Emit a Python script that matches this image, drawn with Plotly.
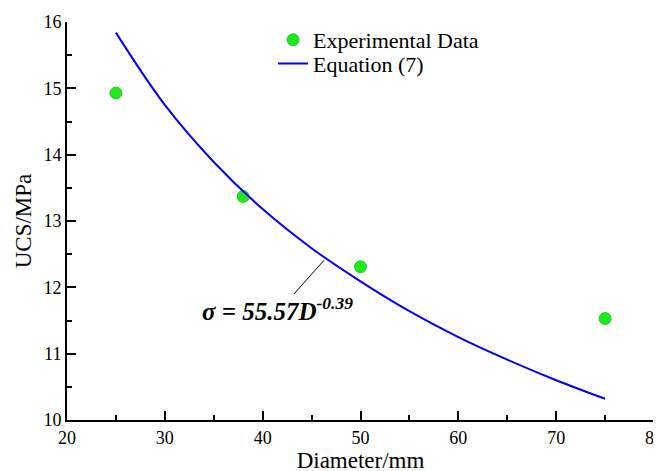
import plotly.graph_objects as go

# Experimental data
diam = [25, 38, 50, 75]
ucs = [14.93, 13.37, 12.31, 11.53]

# Fitted curve, sigma = 55.57 D^-0.39
curve_d = [25, 30, 35, 40, 45, 50, 55, 60, 65, 70, 75]
curve_s = [15.84, 14.75, 13.89, 13.18, 12.59, 12.09, 11.64, 11.25, 10.91, 10.60, 10.32]

x_ticks = [20, 30, 40, 50, 60, 70, 80]
y_ticks = [10, 11, 12, 13, 14, 15, 16]

FONT = "Liberation Serif, Times New Roman, serif"

fig = go.Figure()
fig.add_trace(go.Scatter(
    x=diam, y=ucs, mode="markers", name="Experimental Data", legend="legend",
    marker=dict(size=12, color="#1ee81e",
                line=dict(width=0.8, color="#10c010")),
))
fig.add_trace(go.Scatter(
    x=curve_d, y=curve_s, mode="lines", name="Equation (7)", legend="legend2",
    line=dict(color="#0000ff", width=2, shape="spline"),
))

# leader line and equation label
fig.add_shape(type="line", x0=43.2, y0=11.90, x1=46.28, y1=12.41,
              line=dict(color="black", width=1))
fig.add_annotation(x=41.5, y=11.67, showarrow=False,
                   text="<b><i>σ = 55.57D<sup>-0.39</sup></i></b>",
                   font=dict(family=FONT, size=25, color="black"))

legend_style = dict(x=0.351, xanchor="left", yanchor="middle",
                    bgcolor="rgba(0,0,0,0)", font=dict(size=22, family=FONT, color="black"))

fig.update_layout(
    width=661, height=471,
    margin=dict(l=59, r=15, t=11, b=59),
    paper_bgcolor="white", plot_bgcolor="white",
    font=dict(family=FONT, size=17, color="black"),
    showlegend=True,
    legend=dict(y=0.955, **legend_style),
    legend2=dict(y=0.895, **legend_style),
    xaxis=dict(range=[20, 80], tickvals=x_ticks, showgrid=False, zeroline=False,
               automargin=False,
               showline=True, linecolor="black", linewidth=2,
               ticks="inside", ticklen=9, tickwidth=1.5, tickcolor="black",
               minor=dict(ticks="inside", ticklen=5, tickwidth=1.5, dtick=5, tickcolor="black"),
               title=dict(text="Diameter/mm", font=dict(size=23, family=FONT), standoff=4),
               tickfont=dict(size=18, family=FONT)),
    yaxis=dict(range=[10, 16], tickvals=y_ticks, showgrid=False, zeroline=False,
               automargin=False,
               showline=True, linecolor="black", linewidth=2,
               ticks="inside", ticklen=9, tickwidth=1.5, tickcolor="black",
               minor=dict(ticks="inside", ticklen=5, tickwidth=1.5, dtick=0.5, tickcolor="black"),
               title=dict(text="UCS/MPa", font=dict(size=23, family=FONT), standoff=5),
               tickfont=dict(size=18, family=FONT)),
)

fig.write_html("out.html")
